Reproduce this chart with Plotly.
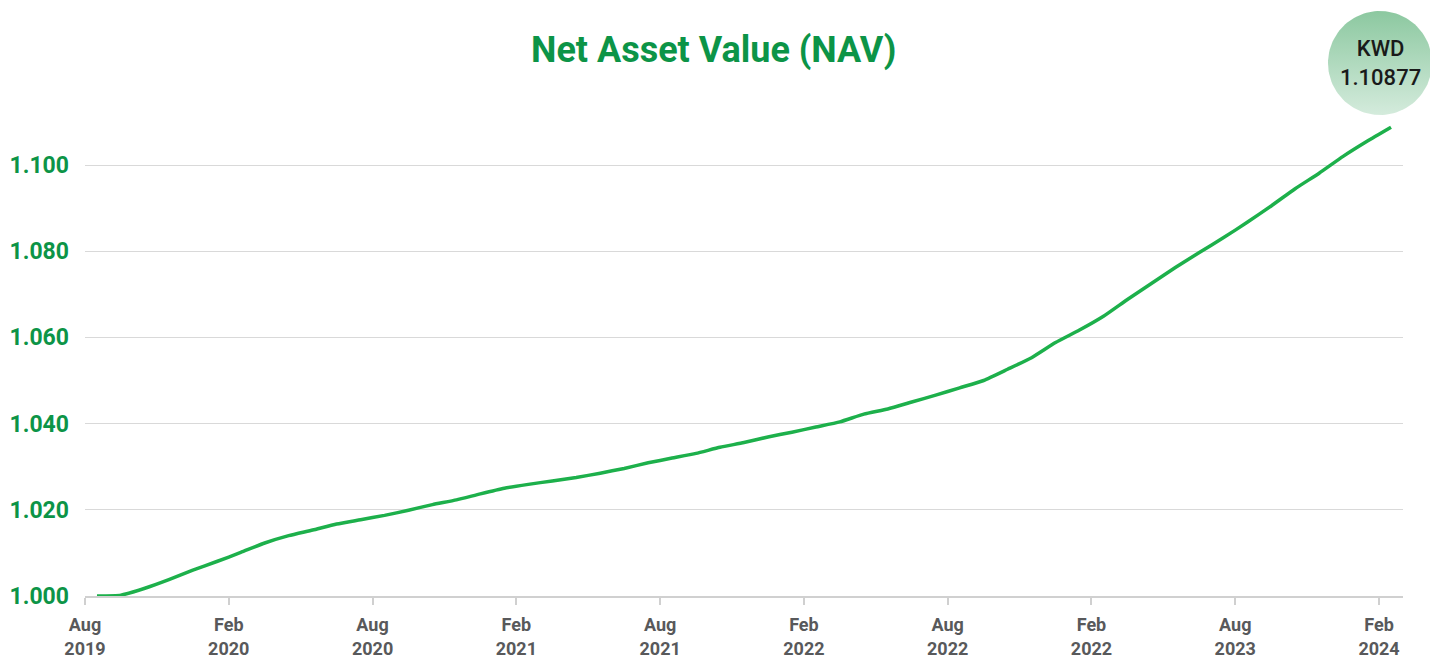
import numpy as np
import plotly.graph_objects as go

# ---- data ----
tick_labels = ["Aug<br>2019", "Feb<br>2020", "Aug<br>2020", "Feb<br>2021", "Aug<br>2021",
               "Feb<br>2022", "Aug<br>2022", "Feb<br>2022", "Aug<br>2023", "Feb<br>2024"]
tick_positions = [0, 6, 12, 18, 24, 30, 36, 42, 48, 54]  # months since Aug 2019

month_index = [k + 0.5 for k in range(55)]
nav_values = [
    1.0000, 1.0002, 1.0018, 1.0038, 1.0060, 1.0080, 1.0101, 1.0123, 1.0140, 1.0153,
    1.0167, 1.0177, 1.0187, 1.0199, 1.0212, 1.0223, 1.0237, 1.0250, 1.0259, 1.0267,
    1.0275, 1.0285, 1.0296, 1.0309, 1.0320, 1.0331, 1.0345, 1.0356, 1.0369, 1.0380,
    1.0392, 1.0404, 1.0422, 1.0434, 1.0450, 1.0466, 1.0483, 1.0500, 1.0526, 1.0553,
    1.0588, 1.0617, 1.0649, 1.0688, 1.0725, 1.0762, 1.0797, 1.0831, 1.0867, 1.0905,
    1.0945, 1.0981, 1.1020, 1.1055, 1.10877,
]
y_ticks = [1.000, 1.020, 1.040, 1.060, 1.080, 1.100]
latest_label = "KWD<br>1.10877"

W, H = 1438, 657
OFF = 8  # page body margin offset
GREEN = "#0c9447"
LINE = "#1db04b"
GREY = "#58595b"


def px(x):
    return (x - OFF) / W


def py(y):
    return (H - (y - OFF)) / H


fig = go.Figure()

fig.add_trace(go.Scatter(
    x=month_index, y=nav_values, mode="lines",
    line=dict(color=LINE, width=3.5, shape="spline", smoothing=0.5),
    hoverinfo="x+y", showlegend=False,
))

# decorative badge with vertical gradient (separate full-page axis in pixel units)
cx, cy, r = 1380 - OFF, H - (63 - OFF), 52
t = np.linspace(0, 2 * np.pi, 121)
fig.add_trace(go.Scatter(
    x=cx + r * np.cos(t), y=cy + r * np.sin(t), xaxis="x2", yaxis="y2",
    mode="lines", line=dict(width=0), fill="toself",
    fillgradient=dict(type="vertical", colorscale=[[0, "#d4ebdc"], [1, "#8cc8a0"]]),
    hoverinfo="skip", showlegend=False,
))

y_bottom = py(596)
y_per_01 = (596 - 165) / H
y_top = y_bottom + y_per_01 * 1.2

fig.update_layout(
    width=W, height=H,
    margin=dict(l=0, r=0, t=0, b=0),
    paper_bgcolor="white", plot_bgcolor="rgba(0,0,0,0)",
    font=dict(family="Roboto, sans-serif"),
    xaxis=dict(
        domain=[px(85), px(1403)], range=[0, 55], automargin=False,
        tickmode="array", tickvals=tick_positions, ticktext=tick_labels,
        tickfont=dict(size=18, color=GREY, weight="bold"),
        showgrid=False, zeroline=False,
        showline=True, linecolor="#d0d0d0", linewidth=1.5,
        ticks="outside", ticklen=7, tickcolor="#d0d0d0", tickwidth=1.5,
        ticklabelstandoff=5, anchor="y",
    ),
    yaxis=dict(
        domain=[y_bottom, y_top], range=[1.0, 1.12], automargin=False,
        tickmode="array", tickvals=y_ticks, ticktext=[f"{v:.3f}" for v in y_ticks],
        tickfont=dict(size=23, color=GREEN, weight="bold"),
        showgrid=True, gridcolor="#d9d9d9", gridwidth=1,
        zeroline=False, showline=False, ticks="", ticklabelstandoff=15, anchor="x",
    ),
    xaxis2=dict(domain=[0, 1], range=[0, W], visible=False, fixedrange=True,
                anchor="y2", automargin=False),
    yaxis2=dict(domain=[0, 1], range=[0, H], visible=False, fixedrange=True,
                anchor="x2", automargin=False),
    annotations=[
        dict(text="<b>Net Asset Value (NAV)</b>", x=px(713), y=py(50),
             xref="paper", yref="paper", showarrow=False,
             font=dict(size=36, color=GREEN), xanchor="center", yanchor="middle"),
        dict(text=latest_label, x=cx / W, y=cy / H, xref="paper", yref="paper",
             showarrow=False, font=dict(size=22, color="#1a1a1a", weight=500),
             xanchor="center", yanchor="middle"),
    ],
)

fig.write_html("out.html")
